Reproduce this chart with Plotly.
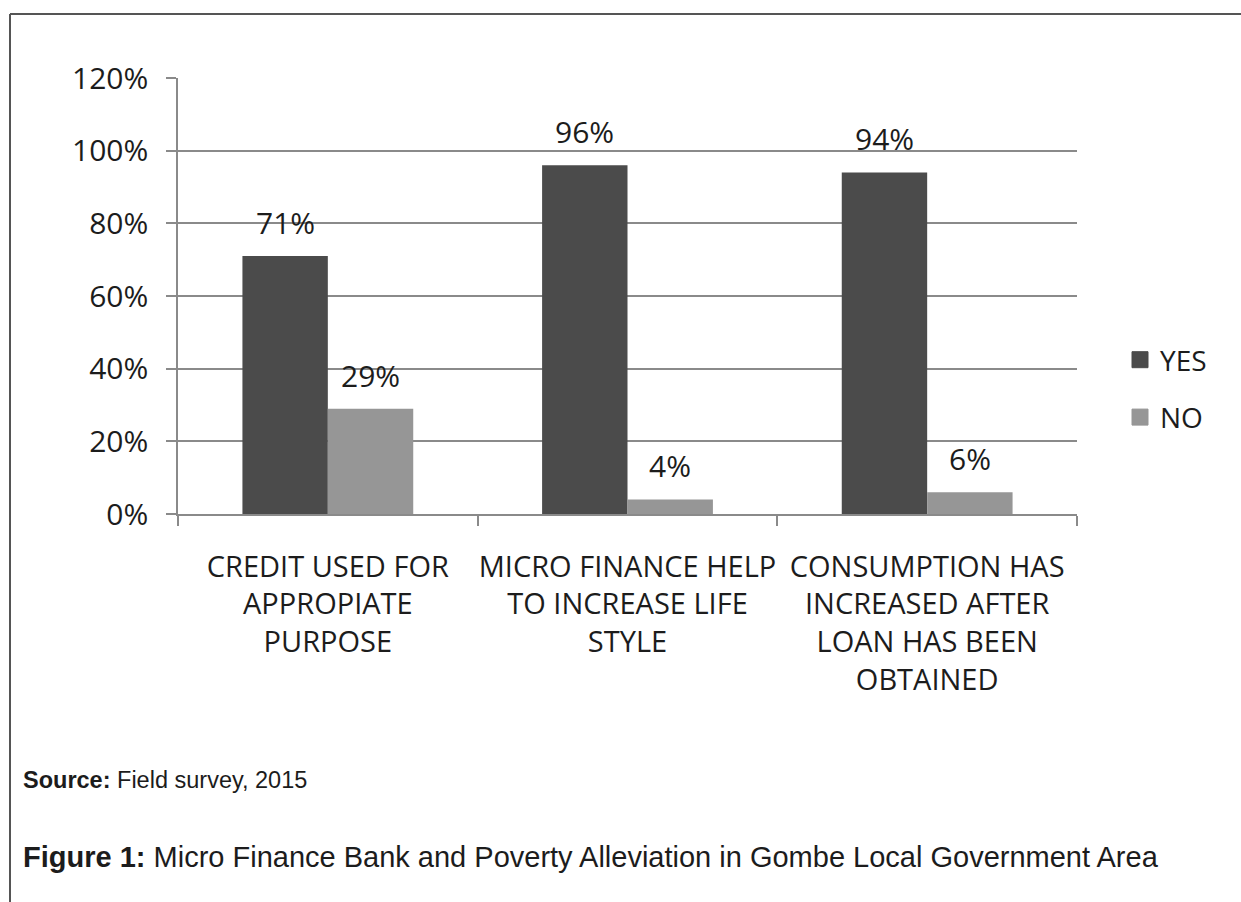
import plotly.graph_objects as go

# Survey responses (percent of respondents)
categories = [
    "CREDIT USED FOR<br>APPROPIATE<br>PURPOSE",
    "MICRO FINANCE HELP<br>TO INCREASE LIFE<br>STYLE",
    "CONSUMPTION HAS<br>INCREASED AFTER<br>LOAN HAS BEEN<br>OBTAINED",
]
yes_pct = [71, 96, 94]
no_pct = [29, 4, 6]
y_ticks = [0, 20, 40, 60, 80, 100, 120]
series_names = ["YES", "NO"]

# Canvas and plot-area geometry (pixels)
W, H = 1241, 902
PL, PR, PT, PB = 178, 1077, 78, 514
BARGAP = 0.43

YES_COLOR = "#4b4b4b"
NO_COLOR = "#969696"
AXIS_COLOR = "#8a8a8a"
TEXT_COLOR = "#1c1c1c"
CHART_FONT = "Open Sans"
CAPTION_FONT = "Liberation Sans"


def px_to_paper(px, py):
    return (px - PL) / (PR - PL), (PB - py) / (PB - PT)


fig = go.Figure()
for name, vals, color in [(series_names[0], yes_pct, YES_COLOR), (series_names[1], no_pct, NO_COLOR)]:
    fig.add_trace(go.Bar(
        x=categories, y=vals, name=name, marker=dict(color=color, line=dict(width=0)),
        showlegend=False, hoverinfo="x+y",
    ))
    # legend entry with a larger square swatch
    fig.add_trace(go.Scatter(
        x=[None], y=[None], mode="markers", name=name, legendgroup=name,
        marker=dict(symbol="square", size=16, color=color, line=dict(width=1, color=color)),
    ))

# value labels above each bar
cat_px = (PR - PL) / len(categories)
bar_px = cat_px * (1 - BARGAP) / 2
for vals, side in [(yes_pct, -1), (no_pct, 1)]:
    for c, v in zip(categories, vals):
        fig.add_annotation(
            x=c, y=v, xref="x", yref="y", text=f"{v}%", showarrow=False,
            xshift=side * bar_px / 2, yanchor="bottom", yshift=11,
            font=dict(family=CHART_FONT, size=30, color=TEXT_COLOR),
        )

# frame lines (left and top)
x0, y0 = px_to_paper(10, 14)
x1, y1 = px_to_paper(1241, 902)
fig.add_shape(type="line", xref="paper", yref="paper", x0=x0, y0=y0, x1=x1, y1=y0,
              line=dict(color="#555555", width=2))
fig.add_shape(type="line", xref="paper", yref="paper", x0=x0, y0=y0, x1=x0, y1=y1,
              line=dict(color="#555555", width=2))

# captions below the chart
sx, sy = px_to_paper(21, 780)
fig.add_annotation(x=sx, y=sy, xref="paper", yref="paper", xanchor="left", yanchor="middle",
                   showarrow=False, text="<b>Source:</b> Field survey, 2015",
                   font=dict(family=CAPTION_FONT, size=23.5, color=TEXT_COLOR))
fx, fy = px_to_paper(21, 857)
fig.add_annotation(x=fx, y=fy, xref="paper", yref="paper", xanchor="left", yanchor="middle",
                   showarrow=False,
                   text="<b>Figure 1:</b> Micro Finance Bank and Poverty Alleviation in Gombe Local Government Area",
                   font=dict(family=CAPTION_FONT, size=29, color=TEXT_COLOR))

lx, ly = px_to_paper(1120, 335)
fig.update_layout(
    width=W, height=H,
    margin=dict(l=PL, r=W - PR, t=PT, b=H - PB, autoexpand=False),
    paper_bgcolor="white", plot_bgcolor="white",
    barmode="group", bargap=BARGAP, bargroupgap=0,
    font=dict(family=CHART_FONT, size=28, color=TEXT_COLOR),
    legend=dict(x=lx, y=ly, xanchor="left", yanchor="top", tracegroupgap=18,
                font=dict(family=CHART_FONT, size=28, color=TEXT_COLOR),
                bgcolor="rgba(0,0,0,0)"),
    xaxis=dict(
        showline=True, linecolor=AXIS_COLOR, linewidth=1.5,
        ticks="outside", tickson="boundaries", ticklen=10, tickwidth=1.5, tickcolor=AXIS_COLOR,
        ticklabelstandoff=26, showgrid=False, tickangle=0,
        tickfont=dict(family=CHART_FONT, size=29, color=TEXT_COLOR),
    ),
    yaxis=dict(
        range=[0, 120], tickvals=y_ticks, ticktext=[f"{v}%" for v in y_ticks],
        showline=True, linecolor=AXIS_COLOR, linewidth=1.5,
        ticks="outside", ticklen=10, tickwidth=1.5, tickcolor=AXIS_COLOR,
        showgrid=True, gridcolor=AXIS_COLOR, gridwidth=1.5, zeroline=False,
        ticklabelstandoff=12,
        tickfont=dict(family=CHART_FONT, size=30, color=TEXT_COLOR),
    ),
)

fig.write_html("out.html")
